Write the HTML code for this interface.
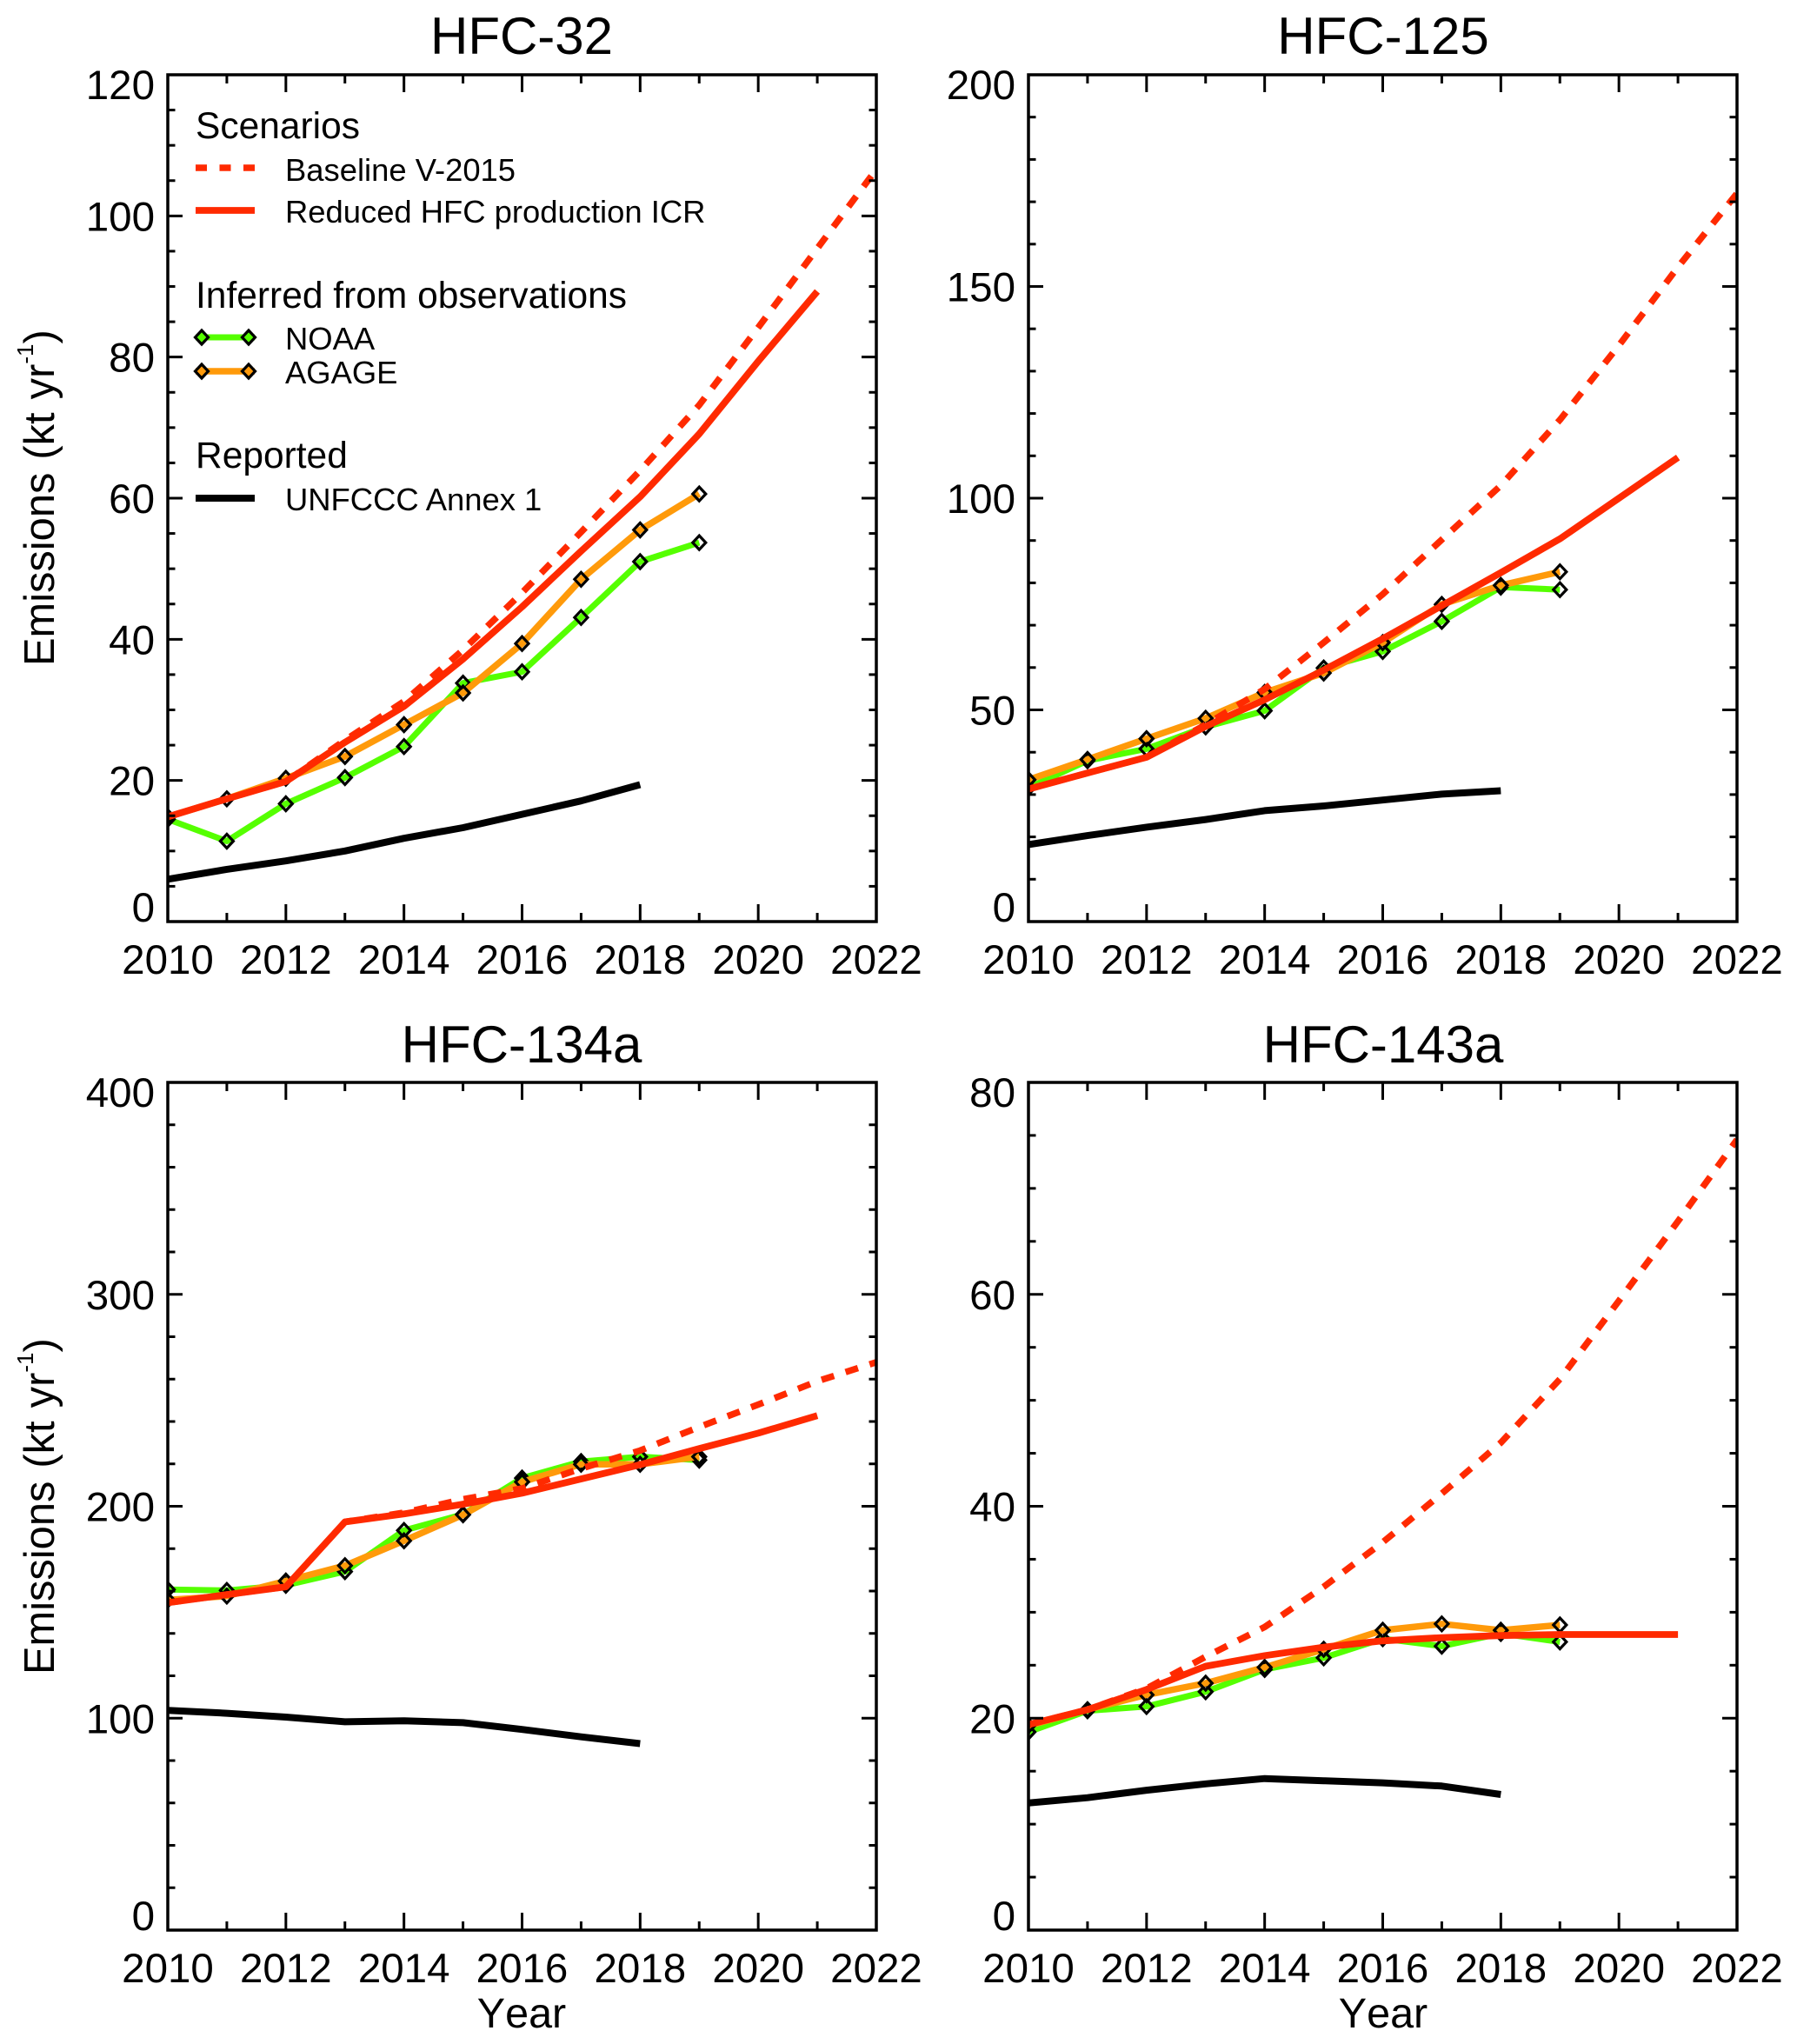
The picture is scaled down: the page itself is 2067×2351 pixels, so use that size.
<!DOCTYPE html>
<html lang="en">
<head>
<meta charset="utf-8">
<title>HFC emissions: scenarios, observations and reported</title>
<style>
  html, body { margin: 0; padding: 0; background: #ffffff; }
  svg { display: block; }
  text { font-family: "Liberation Sans", Arial, sans-serif; fill: #000000; }
  .panel-title { font-size: 60px; text-anchor: middle; }
  .tick-label { font-size: 47.5px; }
  .axis-title { font-size: 48.8px; word-spacing: 1.5px; }
  .x-title { font-size: 48.5px; font-kerning: none; }
  .legend-head { font-size: 42.5px; }
  .legend-item { font-size: 36.4px; }
</style>
</head>
<body>
<svg id="chart" xmlns="http://www.w3.org/2000/svg" width="2067" height="2351" viewBox="0 0 2067 2351">
  <rect x="0" y="0" width="2067" height="2351" fill="#ffffff"/>
  <defs>
    <clipPath id="clip-hfc32"><rect x="193" y="86" width="815" height="974"/></clipPath>
    <clipPath id="clip-hfc125"><rect x="1183" y="86" width="815" height="974"/></clipPath>
    <clipPath id="clip-hfc134a"><rect x="193" y="1245" width="815" height="975"/></clipPath>
    <clipPath id="clip-hfc143a"><rect x="1183" y="1245" width="815" height="975"/></clipPath>
  </defs>

  <text class="panel-title" x="600" y="62">HFC-32</text>
  <text class="panel-title" x="1591" y="62">HFC-125</text>
  <text class="panel-title" x="600" y="1222">HFC-134a</text>
  <text class="panel-title" x="1591" y="1222">HFC-143a</text>

  <text class="axis-title" transform="translate(62,766) rotate(-90)">Emissions (kt yr<tspan font-size="26" dy="-24">-1</tspan><tspan dy="24">)</tspan></text>
  <text class="axis-title" transform="translate(62,1926) rotate(-90)">Emissions (kt yr<tspan font-size="26" dy="-24">-1</tspan><tspan dy="24">)</tspan></text>
  <text class="x-title" x="600" y="2332" text-anchor="middle">Year</text>
  <text class="x-title" x="1591" y="2332" text-anchor="middle">Year</text>

  <g id="panels"></g>

  <g>
    <text class="legend-head" x="225" y="159">Scenarios</text>
    <line x1="225" y1="193" x2="293" y2="193" stroke="#ff2a00" stroke-width="7.5" stroke-dasharray="13 14.5"/>
    <text class="legend-item" x="328" y="208">Baseline V-2015</text>
    <line x1="225" y1="242" x2="293" y2="242" stroke="#ff2a00" stroke-width="7.8"/>
    <text class="legend-item" x="328" y="256">Reduced HFC production ICR</text>

    <text class="legend-head" x="225" y="354">Inferred from observations</text>
    <line x1="225" y1="388" x2="293" y2="388" stroke="#55ff00" stroke-width="7"/>
    <polygon points="232,380 239.5,388 232,396 224.5,388" fill="#55ff00" stroke="#000" stroke-width="3.2"/>
    <polygon points="286,380 293.5,388 286,396 278.5,388" fill="#55ff00" stroke="#000" stroke-width="3.2"/>
    <text class="legend-item" x="328" y="402">NOAA</text>
    <line x1="225" y1="427" x2="293" y2="427" stroke="#ff9a0a" stroke-width="7.5"/>
    <polygon points="232,419 239.5,427 232,435 224.5,427" fill="#ff9a0a" stroke="#000" stroke-width="3.2"/>
    <polygon points="286,419 293.5,427 286,435 278.5,427" fill="#ff9a0a" stroke="#000" stroke-width="3.2"/>
    <text class="legend-item" x="328" y="441">AGAGE</text>

    <text class="legend-head" x="225" y="538">Reported</text>
    <line x1="225" y1="573" x2="293" y2="573" stroke="#000" stroke-width="8"/>
    <text class="legend-item" x="328" y="587">UNFCCC Annex 1</text>
  </g>
</svg>

<script>
// ---------- data (kt/yr), one value per year from 2010 ----------
const years = [2010, 2011, 2012, 2013, 2014, 2015, 2016, 2017, 2018, 2019, 2020, 2021, 2022];
const xTickLabels = ['2010', '2012', '2014', '2016', '2018', '2020', '2022'];

const hfc32YTicks = [0, 20, 40, 60, 80, 100, 120];
const hfc32Reported = [6.0, 7.4, 8.6, 10.0, 11.8, 13.3, 15.2, 17.1, 19.4];
const hfc32Noaa = [14.5, 11.4, 16.7, 20.4, 24.8, 33.8, 35.4, 43.1, 51.0, 53.7];
const hfc32Agage = [14.85, 17.4, 20.3, 23.4, 27.9, 32.4, 39.4, 48.5, 55.5, 60.6];
const hfc32Baseline = [14.85, 17.4, 19.85, 25.7, 31.2, 38.5, 46.6, 55.2, 63.9, 73.2, 84.2, 95.4, 106.6];
const hfc32Icr = [14.85, 17.4, 19.85, 25.4, 30.5, 37.2, 44.6, 52.5, 60.2, 69.1, 79.4, 89.3];

const hfc125YTicks = [0, 50, 100, 150, 200];
const hfc125Reported = [18.2, 20.3, 22.3, 24.1, 26.2, 27.3, 28.7, 30.1, 30.9];
const hfc125Noaa = [31.6, 38.0, 40.8, 46.0, 49.8, 59.9, 63.8, 70.9, 79.0, 78.4];
const hfc125Agage = [33.5, 38.3, 43.2, 48.0, 54.1, 58.7, 65.9, 74.9, 79.4, 82.6];
const hfc125Baseline = [31.3, 35.1, 38.8, 46.5, 54.9, 65.9, 77.3, 90.2, 103.0, 118.5, 136.1, 154.6, 172.0];
const hfc125Icr = [31.3, 35.1, 38.8, 46.1, 52.4, 59.4, 66.8, 74.6, 82.4, 90.4, 100.0, 109.6];

const hfc134aYTicks = [0, 100, 200, 300, 400];
const hfc134aReported = [103.7, 102.3, 100.5, 98.3, 98.8, 97.9, 94.7, 91.2, 88.0];
const hfc134aNoaa = [160.7, 160.3, 162.7, 169.2, 188.6, 196.2, 213.3, 221.1, 223.4, 221.8];
const hfc134aAgage = [155.8, 157.6, 164.7, 172.0, 183.7, 196.0, 211.5, 219.8, 219.8, 223.4];
const hfc134aBaseline = [154.5, 158.3, 162.0, 192.6, 197.0, 203.3, 208.4, 217.8, 226.3, 237.4, 248.0, 259.0, 268.0];
const hfc134aIcr = [154.5, 158.3, 162.0, 192.6, 196.4, 201.0, 206.2, 212.9, 219.6, 227.2, 234.5, 242.8];

const hfc143aYTicks = [0, 20, 40, 60, 80];
const hfc143aReported = [12.0, 12.5, 13.2, 13.8, 14.3, 14.1, 13.9, 13.6, 12.8];
const hfc143aNoaa = [18.7, 20.7, 21.1, 22.5, 24.6, 25.7, 27.5, 26.8, 28.0, 27.2];
const hfc143aAgage = [19.3, 20.8, 22.2, 23.3, 24.8, 26.5, 28.3, 28.9, 28.3, 28.8];
const hfc143aBaseline = [19.4, 20.8, 22.8, 25.8, 28.6, 32.4, 36.6, 41.2, 46.0, 52.0, 59.4, 66.9, 74.6];
const hfc143aIcr = [19.4, 20.8, 22.7, 24.9, 25.9, 26.7, 27.3, 27.6, 27.8, 27.9, 27.9, 27.9];

// ---------- rendering ----------
const SVG_NS = 'http://www.w3.org/2000/svg';
const GREEN = '#55ff00';
const ORANGE = '#ff9a0a';
const RED = '#ff2a00';
const root = document.getElementById('panels');

const panels = [
  { id: 'hfc32', box: [193, 1008, 86, 1060], yMax: 120, yMinorStep: 5, yTicks: hfc32YTicks,
    reported: hfc32Reported, noaa: hfc32Noaa, agage: hfc32Agage, baseline: hfc32Baseline, icr: hfc32Icr },
  { id: 'hfc125', box: [1183, 1998, 86, 1060], yMax: 200, yMinorStep: 10, yTicks: hfc125YTicks,
    reported: hfc125Reported, noaa: hfc125Noaa, agage: hfc125Agage, baseline: hfc125Baseline, icr: hfc125Icr },
  { id: 'hfc134a', box: [193, 1008, 1245, 2220], yMax: 400, yMinorStep: 20, yTicks: hfc134aYTicks,
    reported: hfc134aReported, noaa: hfc134aNoaa, agage: hfc134aAgage, baseline: hfc134aBaseline, icr: hfc134aIcr },
  { id: 'hfc143a', box: [1183, 1998, 1245, 2220], yMax: 80, yMinorStep: 5, yTicks: hfc143aYTicks,
    reported: hfc143aReported, noaa: hfc143aNoaa, agage: hfc143aAgage, baseline: hfc143aBaseline, icr: hfc143aIcr }
];

function make(tag, parent) {
  const el = document.createElementNS(SVG_NS, tag);
  parent.appendChild(el);
  return el;
}

function drawTick(parent, x1, y1, x2, y2) {
  const el = make('line', parent);
  
  
  el.setAttribute('x1', x1);
  el.setAttribute('y1', y1);
  el.setAttribute('x2', x2);
  el.setAttribute('y2', y2);
  el.setAttribute('stroke', '#000');
  el.setAttribute('stroke-width', '3');
}

function drawSeriesLine(parent, values, xScale, yScale, color, width, dashed) {
  const el = make('polyline', parent);
  
  
  el.setAttribute('points', values.map((v, i) => xScale(years[i]).toFixed(1) + ',' + yScale(v).toFixed(1)).join(' '));
  el.setAttribute('fill', 'none');
  el.setAttribute('stroke', color);
  el.setAttribute('stroke-width', width);
  el.setAttribute('stroke-linejoin', 'round');
  if (dashed) el.setAttribute('stroke-dasharray', '15 14');
}

function drawDiamonds(parent, values, xScale, yScale) {
  values.forEach((v, i) => {
    const cx = xScale(years[i]);
    const cy = yScale(v);
    const el = make('polygon', parent);
    
    
    el.setAttribute('points', [[cx, cy - 8], [cx + 7.5, cy], [cx, cy + 8], [cx - 7.5, cy]].map(p => p[0].toFixed(1) + ',' + p[1].toFixed(1)).join(' '));
    el.setAttribute('fill', 'none');
    el.setAttribute('stroke', '#000');
    el.setAttribute('stroke-width', '3.2');
  });
}

panels.forEach(p => {
  const left = p.box[0], right = p.box[1], top = p.box[2], bottom = p.box[3];
  const xScale = year => left + (year - years[0]) / (years[years.length - 1] - years[0]) * (right - left);
  const yScale = value => bottom - value / p.yMax * (bottom - top);

  const group = make('g', root);
  
  

  // Series, clipped to the plot frame
  const plot = make('g', group);
  
  
  plot.setAttribute('clip-path', 'url(#clip-' + p.id + ')');
  drawSeriesLine(plot, p.reported, xScale, yScale, '#000000', 8, false);
  drawSeriesLine(plot, p.noaa, xScale, yScale, GREEN, 7, false);
  drawDiamonds(plot, p.noaa, xScale, yScale);
  drawSeriesLine(plot, p.agage, xScale, yScale, ORANGE, 7.5, false);
  drawDiamonds(plot, p.agage, xScale, yScale);
  drawSeriesLine(plot, p.baseline, xScale, yScale, RED, 7.5, true);
  drawSeriesLine(plot, p.icr, xScale, yScale, RED, 7.8, false);

  // Frame
  const frame = make('rect', group);
  
  
  frame.setAttribute('x', left);
  frame.setAttribute('y', top);
  frame.setAttribute('width', right - left);
  frame.setAttribute('height', bottom - top);
  frame.setAttribute('fill', 'none');
  frame.setAttribute('stroke', '#000');
  frame.setAttribute('stroke-width', '3.5');

  // X ticks: major on even years, minor on odd years, mirrored top and bottom
  years.forEach((year, i) => {
    const len = i % 2 === 0 ? 20 : 10;
    drawTick(group, xScale(year), bottom, xScale(year), bottom - len);
    drawTick(group, xScale(year), top, xScale(year), top + len);
  });
  xTickLabels.forEach(label => {
    const el = make('text', group);
    
    
    el.setAttribute('class', 'tick-label');
    el.setAttribute('x', xScale(Number(label)));
    el.setAttribute('y', bottom + 60);
    el.setAttribute('text-anchor', 'middle');
    el.textContent = label;
  });

  // Y ticks: minor at every step, major at labelled values, mirrored left and right
  for (let v = 0; v <= p.yMax; v += p.yMinorStep) {
    const len = p.yTicks.includes(v) ? 17 : 8.5;
    drawTick(group, left, yScale(v), left + len, yScale(v));
    drawTick(group, right, yScale(v), right - len, yScale(v));
  }
  p.yTicks.forEach(v => {
    const el = make('text', group);
    
    
    el.setAttribute('class', 'tick-label');
    el.setAttribute('x', left - 15);
    const offset = v === 0 ? 0 : (v === p.yMax ? 28 : 17);
    el.setAttribute('y', yScale(v) + offset);
    el.setAttribute('text-anchor', 'end');
    el.textContent = String(v);
  });
});
</script>
</body>
</html>
